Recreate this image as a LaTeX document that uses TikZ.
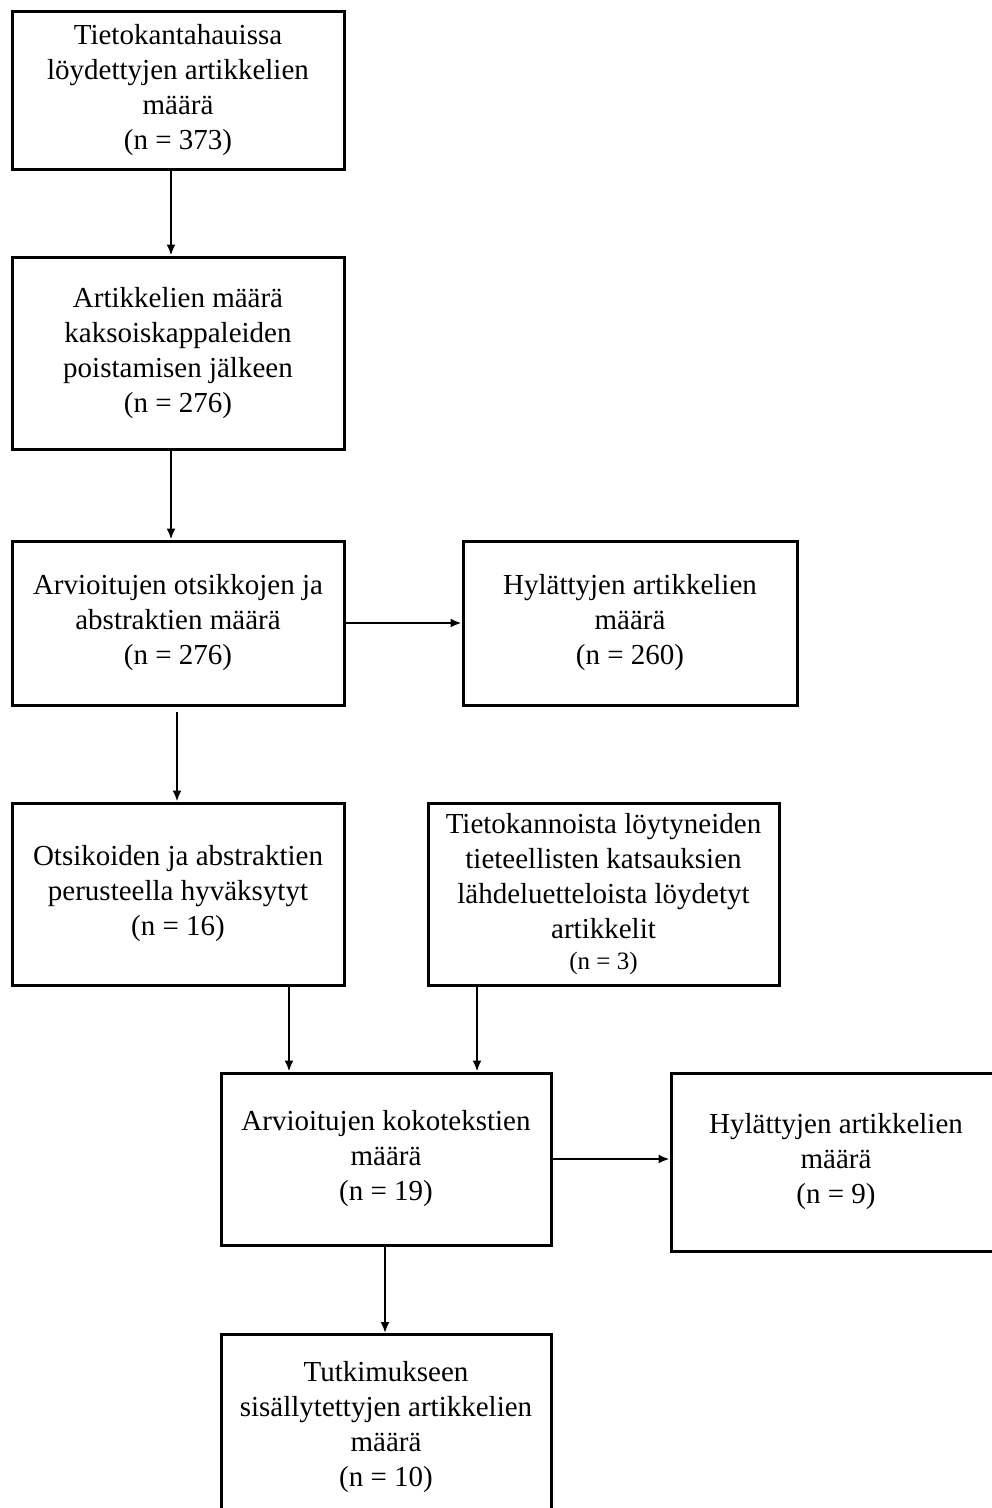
\documentclass[tikz,border=0pt]{standalone}
\usepackage{fontspec}
\setmainfont{Liberation Serif}
\usetikzlibrary{arrows.meta,calc}
\begin{document}
\begin{tikzpicture}[x=1pt,y=-1pt,
  box/.style={draw, line width=3pt, align=center, inner sep=0pt,
    font=\fontsize{29}{35}\selectfont,
    execute at begin node={\rule{0pt}{34pt}}},
  arr/.style={line width=2pt, -{Latex[length=11pt,width=9pt]}}]
\useasboundingbox[fill=white] (0,0) rectangle (992,1508);
\node[box, minimum width=332pt, minimum height=158pt] (b1) at (178,90)
  {Tietokantahauissa\\löydettyjen artikkelien\\määrä\\(n = 373)};
\node[box, minimum width=332pt, minimum height=192pt] (b2) at (178,353)
  {Artikkelien määrä\\kaksoiskappaleiden\\poistamisen jälkeen\\(n = 276)};
\node[box, minimum width=332pt, minimum height=164pt] (b3) at (178,623)
  {Arvioitujen otsikkojen ja\\abstraktien määrä\\(n = 276)};
\node[box, minimum width=334pt, minimum height=164pt] (h1) at (630,623)
  {Hylättyjen artikkelien\\määrä\\(n = 260)};
\node[box, minimum width=332pt, minimum height=182pt] (b4) at (178,894)
  {Otsikoiden ja abstraktien\\perusteella hyväksytyt\\(n = 16)};
\node[box, minimum width=351pt, minimum height=182pt] (b5) at (603.5,894)
  {Tietokannoista löytyneiden\\tieteellisten katsauksien\\lähdeluetteloista löydetyt\\artikkelit\\[-4pt]{\fontsize{25}{29}\selectfont (n = 3)}};
\node[box, minimum width=330pt, minimum height=172pt] (b6) at (386,1159)
  {Arvioitujen kokotekstien\\määrä\\(n = 19)};
\node[box, minimum width=330pt, minimum height=178pt] (h2) at (836,1162)
  {Hylättyjen artikkelien\\määrä\\(n = 9)};
\node[box, minimum width=330pt, minimum height=185pt] (b7) at (386,1427)
  {Tutkimukseen\\sisällytettyjen artikkelien\\määrä\\(n = 10)};
\coordinate (xa) at (171,0);
\coordinate (xb) at (177,0);
\coordinate (xc) at (289,0);
\coordinate (xd) at (477,0);
\coordinate (xe) at (385,0);
\coordinate (s3) at (177,712);
\draw[arr] (b1.south -| xa) -- (b2.north -| xa);
\draw[arr] (b2.south -| xa) -- (b3.north -| xa);
\draw[arr] (b3.east) -- (h1.west);
\draw[arr] (s3) -- (b4.north -| xb);
\draw[arr] (b4.south -| xc) -- (b6.north -| xc);
\draw[arr] (b5.south -| xd) -- (b6.north -| xd);
\draw[arr] (b6.east) -- (h2.west |- b6.east);
\draw[arr] (b6.south -| xe) -- (b7.north -| xe);
\end{tikzpicture}
\end{document}
